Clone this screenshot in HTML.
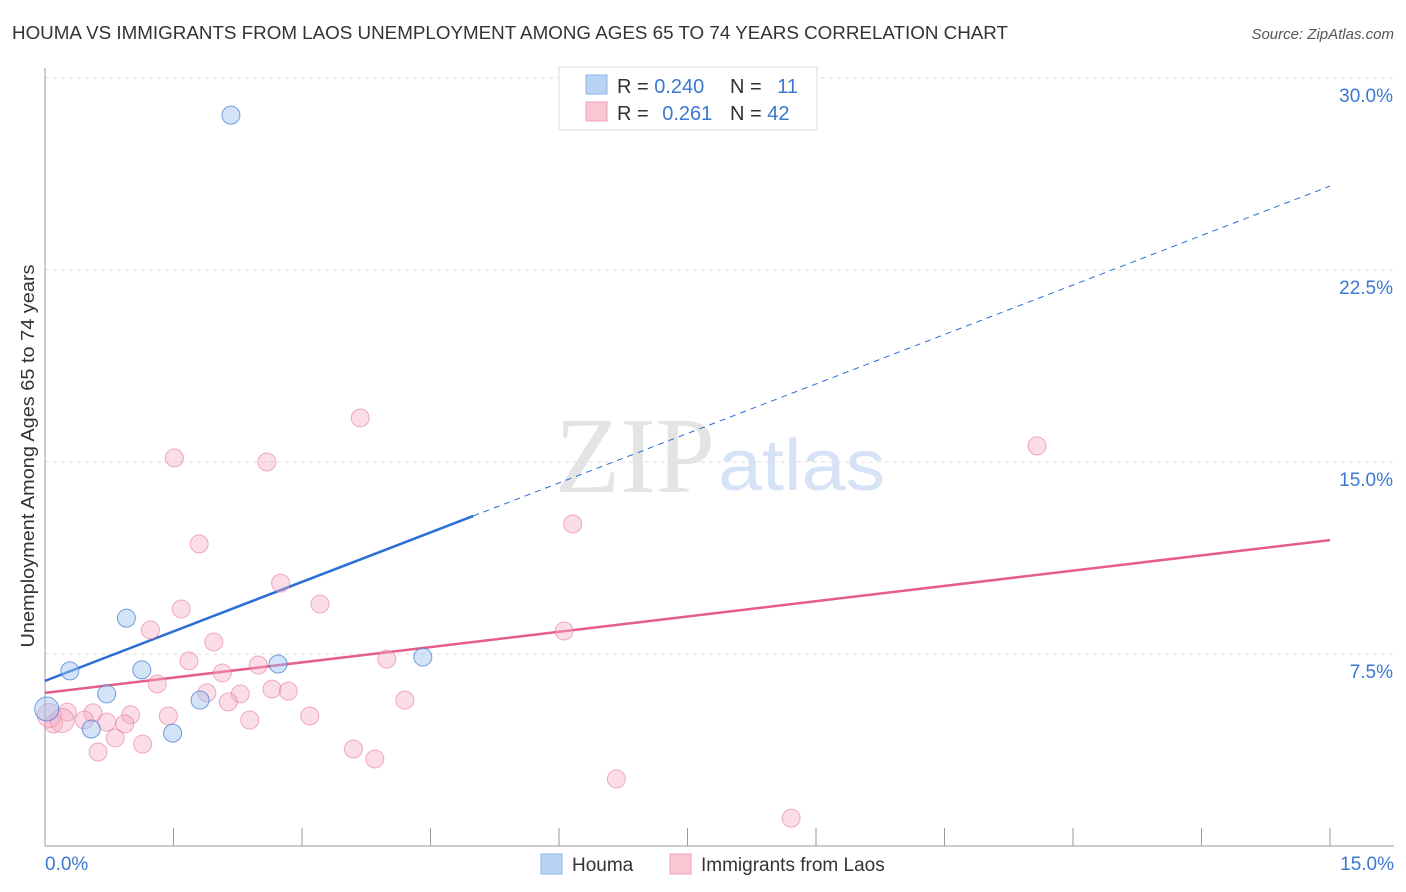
<!DOCTYPE html>
<html><head><meta charset="utf-8">
<style>
body{margin:0;background:#fff;font-family:"Liberation Sans",sans-serif;}
svg{display:block}
</style></head>
<body>
<svg id="chart" width="1406" height="892" xmlns="http://www.w3.org/2000/svg">
<text x="12" y="39" font-size="18" fill="#333" textLength="996" lengthAdjust="spacingAndGlyphs">HOUMA VS IMMIGRANTS FROM LAOS UNEMPLOYMENT AMONG AGES 65 TO 74 YEARS CORRELATION CHART</text>
<text x="1394" y="39" font-size="15" fill="#555" font-style="italic" text-anchor="end">Source: ZipAtlas.com</text>
<text x="555" y="492" font-size="108" fill="#e4e4e4" font-family="Liberation Serif" textLength="160" lengthAdjust="spacingAndGlyphs">ZIP</text>
<text x="718" y="490" font-size="72" fill="#d6e2f5" textLength="167" lengthAdjust="spacingAndGlyphs">atlas</text>
<g id="grid"></g>
<g id="axes"></g>
<g id="lines"></g>
<g id="pts"></g>
<text transform="translate(34,456) rotate(-90)" font-size="18" fill="#333" text-anchor="middle" textLength="383" lengthAdjust="spacingAndGlyphs">Unemployment Among Ages 65 to 74 years</text>
<g>
<rect x="559" y="67" width="258" height="63" fill="#fff" stroke="#ddd"/>
<rect x="586" y="75" width="21" height="19" fill="#b9d3f5" stroke="#8db4ea"/>
<rect x="586" y="102" width="21" height="19" fill="#f9c6d4" stroke="#eea3b8"/>
<text x="617" y="93" font-size="20" fill="#333">R = <tspan fill="#3a78d2">0.240</tspan></text>
<text x="730" y="93" font-size="20" fill="#333">N = <tspan fill="#3a78d2" dx="10">11</tspan></text>
<text x="617" y="120" font-size="20" fill="#333">R = <tspan fill="#3a78d2" dx="8">0.261</tspan></text>
<text x="730" y="120" font-size="20" fill="#333">N = <tspan fill="#3a78d2">42</tspan></text>
</g>
<g>
<rect x="541" y="854" width="21" height="20" fill="#b9d3f5" stroke="#8db4ea"/>
<text x="572" y="871" font-size="19" fill="#333">Houma</text>
<rect x="670" y="854" width="21" height="20" fill="#f9c6d4" stroke="#eea3b8"/>
<text x="701" y="871" font-size="19" fill="#333">Immigrants from Laos</text>
</g>
</svg>
<script>
const xTicks=[0,1.5,3,4.5,6,7.5,9,10.5,12,13.5,15];
const yTicks=[7.5,15,22.5,30];
const yTickLabels=["7.5%","15.0%","22.5%","30.0%"];
const houmaX=[2.17,0.95,0.29,1.13,0.72,2.72,4.41,1.81,0.54,1.49,0.02];
const houmaY=[28.55,8.9,6.84,6.88,5.94,7.11,7.38,5.70,4.57,4.41,5.35];
const laosX=[3.68,11.58,1.51,2.59,6.16,1.80,2.75,3.21,1.59,1.23,6.06,1.97,1.68,3.99,2.49,2.07,1.31,2.65,2.84,1.89,2.28,4.20,2.14,0.56,0.26,1.0,1.44,3.09,0.46,0.72,0.93,2.39,0.1,0.82,1.14,0.62,3.60,3.85,6.67,8.71,0.05,0.2];
const laosY=[16.72,15.63,15.16,15.0,12.58,11.8,10.27,9.45,9.26,8.44,8.40,7.97,7.23,7.30,7.07,6.76,6.33,6.13,6.05,5.98,5.94,5.70,5.63,5.20,5.23,5.12,5.08,5.08,4.92,4.84,4.77,4.92,4.77,4.22,3.98,3.67,3.79,3.40,2.62,1.09,5.1,4.9];
const houmaTrend=[6.45,25.78];
const laosTrend=[5.98,11.95];
const houmaSolidEnd=5.0;

const X=v=>45+v*(1330-45)/15;
const Y=v=>846-v*25.6;
const NS="http://www.w3.org/2000/svg";
function mk(tag,attrs,parent){const e=document.createElementNS(NS,tag);for(const k in attrs)e.setAttribute(k,attrs[k]);document.getElementById(parent).appendChild(e);return e;}

yTicks.forEach((t,i)=>{
  const g=mk('line',{x1:45,x2:1394,y1:Y(t),y2:Y(t),stroke:'#dcdcdc','stroke-dasharray':'4,4'},'grid');
  
  
  const l=mk('text',{x:1393,y:Y(t)+24,'font-size':19,fill:'#3a78d2','text-anchor':'end'},'axes');
  l.textContent=yTickLabels[i];
  
  
});
const ax=mk('line',{x1:45,x2:45,y1:68,y2:846,stroke:'#999'},'axes');


const bx=mk('line',{x1:45,x2:1394,y1:846,y2:846,stroke:'#999'},'axes');


xTicks.forEach(t=>{
  const tk=mk('line',{x1:X(t),x2:X(t),y1:828,y2:846,stroke:'#999'},'axes');
  
  
});
[[0,'0.0%','start',45],[15,'15.0%','end',1394]].forEach(a=>{
  const l=mk('text',{x:a[3],y:870,'font-size':19,fill:'#3a78d2','text-anchor':a[2]},'axes');
  l.textContent=a[1];
  
  
});

function tv(tr,x){return tr[0]+(tr[1]-tr[0])*x/15;}
const hl=mk('line',{x1:X(0),y1:Y(tv(houmaTrend,0)),x2:X(houmaSolidEnd),y2:Y(tv(houmaTrend,houmaSolidEnd)),stroke:'#2a6fd6','stroke-width':2.5},'lines');


const hd=mk('line',{x1:X(houmaSolidEnd),y1:Y(tv(houmaTrend,houmaSolidEnd)),x2:X(15),y2:Y(tv(houmaTrend,15)),stroke:'#2a6fd6','stroke-width':1,'stroke-dasharray':'6,5'},'lines');


const pl=mk('line',{x1:X(0),y1:Y(tv(laosTrend,0)),x2:X(15),y2:Y(tv(laosTrend,15)),stroke:'#e55e8a','stroke-width':2.5},'lines');



laosX.forEach((x,i)=>{
  const c=mk('circle',{cx:X(x),cy:Y(laosY[i]),r:(i>=40?12:9),fill:'rgba(246,170,194,0.4)',stroke:'rgba(232,120,155,0.6)','stroke-width':1},'pts');
  
  
});
houmaX.forEach((x,i)=>{
  const c=mk('circle',{cx:X(x),cy:Y(houmaY[i]),r:(i===10?12:9),fill:'rgba(160,196,240,0.45)',stroke:'rgba(60,120,210,0.7)','stroke-width':1},'pts');
  
  
});
</script>
</body></html>
